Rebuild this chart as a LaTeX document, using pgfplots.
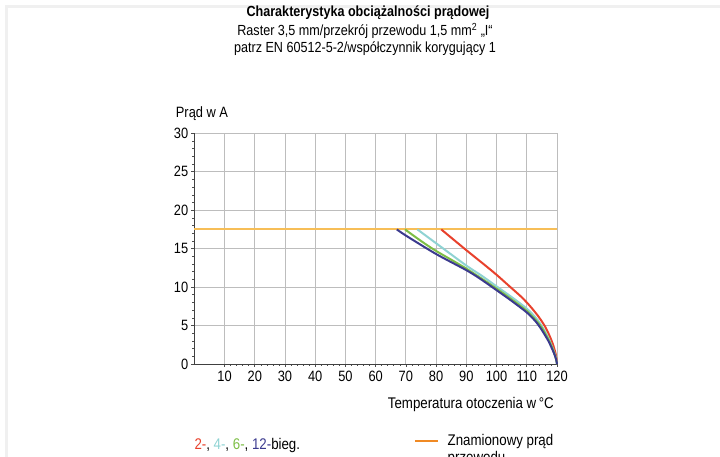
\documentclass[border=0pt]{standalone}
\usepackage{fontspec}
\setmainfont{Liberation Sans}[FakeStretch=0.86]
\usepackage{pgfplots}
\pgfplotsset{compat=1.18}
\definecolor{cRed}{HTML}{E8412C}
\definecolor{cCyan}{HTML}{8FD3D3}
\definecolor{cGreen}{HTML}{7DBE45}
\definecolor{cBlue}{HTML}{3B3A8E}
\definecolor{cOrange}{HTML}{F7BE57}
\definecolor{cOrangeLeg}{HTML}{F08A24}
\definecolor{cGrid}{HTML}{BDBDBD}
\definecolor{cFrame}{HTML}{F0F0F0}
\begin{document}
\begin{tikzpicture}[x=1bp,y=1bp]
\path[use as bounding box] (0,0) rectangle (720,457);
\fill[cFrame] (5,449) rectangle (720,452);
\fill[cFrame] (5,0) rectangle (8,452);
\begin{axis}[
  at={(194.3bp,93bp)}, anchor=south west,
  scale only axis, width=362.7bp, height=230.7bp,
  xmin=0, xmax=120, ymin=0, ymax=30,
  axis x line*=bottom, axis y line*=left,
  axis line style={-, draw=black!75, line width=0.8bp},
  xtick={10,20,...,120}, ytick={0,5,...,30},
  minor x tick num=4, minor y tick num=4,
  tick align=outside,
  major tick length=3bp, minor tick length=2bp,
  tick style={draw=black!70, line width=0.6bp},
  grid=major,
  major grid style={draw=cGrid, line width=0.9bp},
  minor grid style={draw=none},
  /pgf/number format/assume math mode=true,
  tick label style={font=\fontsize{15}{17}\selectfont},
  xticklabel style={yshift=-1bp},
  yticklabel style={xshift=0.5bp},
  clip=false,
]
\addplot[cOrange, line width=2bp] coordinates {(0,17.5) (120,17.5)};
\addplot[cRed, line width=2bp, smooth] coordinates {
 (81.7,17.5) (90,14.8) (96,12.9) (100,11.6) (104,10.2) (108,8.8) (110,8.0) (112,7.1) (114,6.1) (116,4.9) (117.5,3.7) (118.7,2.5) (119.5,1.4) (120,0.3)};
\addplot[cCyan, line width=2bp, smooth] coordinates {
 (73.8,17.5) (80,15.7) (90,12.8) (95,11.5) (100,10.1) (105,8.7) (110,7.2) (113,6.0) (115,4.9) (117,3.5) (118,2.6) (119,1.6) (119.7,0.7) (120,0)};
\addplot[cGreen, line width=2bp, smooth] coordinates {
 (69.7,17.5) (75,16.0) (80,14.7) (90,12.4) (100,9.8) (105,8.4) (110,6.9) (113,5.7) (115,4.7) (117,3.3) (118,2.5) (119,1.5) (119.7,0.6) (120,0)};
\addplot[cBlue, line width=2bp, smooth] coordinates {
 (67,17.5) (70,16.7) (80,14.3) (90,12.2) (94.5,11.1) (100,9.6) (105,8.2) (110,6.7) (113,5.5) (115,4.4) (117,3.1) (118,2.3) (119,1.4) (119.7,0.6) (120,0)};
\end{axis}
\node[anchor=base, inner sep=0pt, font=\fontsize{14.7}{16}\selectfont\bfseries] at (368,440.3) {Charakterystyka obciążalności prądowej};
\node[anchor=base, inner sep=0pt, font=\fontsize{14.7}{16}\selectfont] at (365,421) {Raster 3,5 mm/przekrój przewodu 1,5 mm\textsuperscript{2} „I“};
\node[anchor=base, inner sep=0pt, font=\fontsize{14.7}{16}\selectfont] at (365,404.7) {patrz EN 60512-5-2/współczynnik korygujący 1};
\node[anchor=base west, inner sep=0pt, font=\fontsize{15}{17}\selectfont] at (175.7,339.7) {Prąd w A};
\node[anchor=base east, inner sep=0pt, font=\fontsize{15.5}{17}\selectfont] at (554,48) {Temperatura otoczenia w\,°C};
\node[anchor=base west, inner sep=0pt, font=\fontsize{15.5}{17}\selectfont] at (194.3,7.7) {\textcolor{cRed}{2-}, \textcolor{cCyan}{4-}, \textcolor{cGreen}{6-}, \textcolor{cBlue}{12-}bieg.};
\draw[cOrangeLeg, line width=2.2bp] (415,16) -- (438.3,16);
\node[anchor=base west, inner sep=0pt, font=\fontsize{15.5}{17}\selectfont] at (447.5,11.3) {Znamionowy prąd};
\node[anchor=base west, inner sep=0pt, font=\fontsize{15.5}{17}\selectfont] at (447.5,-6) {przewodu};
\end{tikzpicture}
\end{document}
